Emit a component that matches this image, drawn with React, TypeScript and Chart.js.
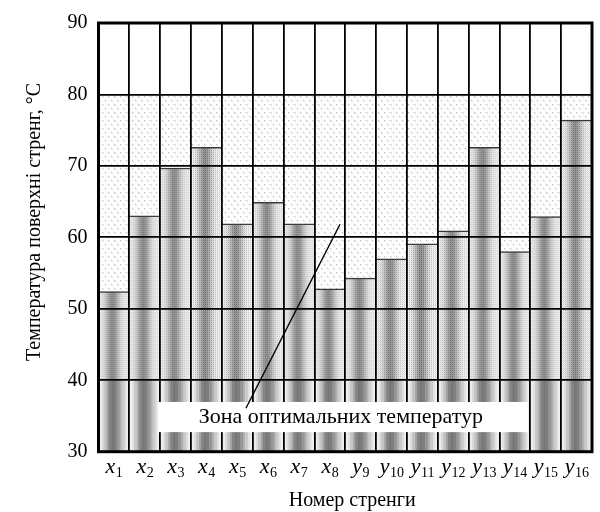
import React, { useEffect, useRef } from "react";
import { Chart, registerables } from "chart.js";

Chart.register(...registerables);

// ---------- data ----------
const CATEGORY_LETTERS = ["x", "x", "x", "x", "x", "x", "x", "x", "y", "y", "y", "y", "y", "y", "y", "y"];
const CATEGORY_INDICES = ["1", "2", "3", "4", "5", "6", "7", "8", "9", "10", "11", "12", "13", "14", "15", "16"];
const CATEGORIES = CATEGORY_LETTERS.map((l, i) => l + CATEGORY_INDICES[i]);
const TEMPERATURES = [52.4, 63.0, 69.7, 72.6, 61.9, 64.9, 61.9, 52.8, 54.3, 57.0, 59.1, 60.9, 72.6, 58.0, 62.9, 76.4];
const Y_TICKS = [30, 40, 50, 60, 70, 80, 90];
const Y_MIN = 30;
const Y_MAX = 90;
const ZONE_LOW = 40; // bars start here
const ZONE_HIGH = 80; // dotted optimal band top

const Y_TITLE = "Температура поверхні стренг, °С";
const X_TITLE = "Номер стренги";
const NOTE_TEXT = "Зона оптимальних температур";
// annotation anchors in data coordinates (category index, °C)
const NOTE_BOX = { x0: 1.43, x1: 13.42, y0: 32.74, y1: 36.96 };
const NOTE_TEXT_POS = { x: 7.36, y: 33.95 };
const LEADER = { x0: 4.28, y0: 36.08, x1: 7.33, y1: 61.84 };

const SERIF = '"Liberation Serif", "Times New Roman", serif';

// ---------- textures ----------
const TILE_W = 31;
const BAYER = [
  [0, 8, 2, 10],
  [12, 4, 14, 6],
  [3, 11, 1, 9],
  [15, 7, 13, 5],
];

function makeTile(w: number, h: number, fn: (x: number, y: number) => number) {
  const c = document.createElement("canvas");
  c.width = w;
  c.height = h;
  const g = c.getContext("2d")!;
  const img = g.createImageData(w, h);
  for (let y = 0; y < h; y++) {
    for (let x = 0; x < w; x++) {
      const v = Math.max(0, Math.min(255, Math.round(fn(x, y))));
      const k = (y * w + x) * 4;
      img.data[k] = v;
      img.data[k + 1] = v;
      img.data[k + 2] = v;
      img.data[k + 3] = 255;
    }
  }
  g.putImageData(img, 0, 0);
  return c;
}

let barTile: HTMLCanvasElement | null = null;
let stripeTile: HTMLCanvasElement | null = null;
let dotTile: HTMLCanvasElement | null = null;

function textures() {
  if (!barTile) {
    barTile = makeTile(TILE_W, 8, (x, y) => {
      const u = (x + 0.5) / TILE_W;
      const base = 236 - 92 * Math.exp(-Math.pow((u - 0.45) / 0.22, 2));
      const b = BAYER[y % 4][x % 4];
      if (b < 4) return base - 38;
      if (b >= 8 && b < 12) return base + 16;
      return base;
    });
    const bands = [238, 222, 196, 164, 132, 118, 126, 150, 176, 202, 224, 240];
    stripeTile = makeTile(TILE_W, 4, (x) => {
      const idx = Math.min(bands.length - 1, Math.floor(((x + 0.5) / TILE_W) * bands.length));
      return bands[idx];
    });
    dotTile = makeTile(6, 8, (x, y) => {
      if ((x === 0 && y === 0) || (x === 3 && y === 4)) return 180;
      if ((x === 1 && y === 1) || (x === 4 && y === 5)) return 215;
      return 253;
    });
  }
  return { barTile: barTile!, stripeTile: stripeTile!, dotTile: dotTile! };
}

function shiftedPattern(ctx: CanvasRenderingContext2D, tile: HTMLCanvasElement, left: number) {
  const p = ctx.createPattern(tile, "repeat")!;
  p.setTransform(new DOMMatrix([1, 0, 0, 1, left, 0]));
  return p;
}

// ---------- plugins ----------
const bandsPlugin = {
  id: "bands",
  beforeDatasetsDraw(chart: any) {
    const { ctx, chartArea, scales } = chart;
    const xs = scales.x;
    const ys = scales.y;
    const t = textures();
    ctx.save();
    // optimal dotted band
    const yTop = ys.getPixelForValue(ZONE_HIGH);
    const yLow = ys.getPixelForValue(ZONE_LOW);
    ctx.fillStyle = ctx.createPattern(t.dotTile, "repeat");
    ctx.fillRect(chartArea.left, yTop, chartArea.right - chartArea.left, yLow - yTop);
    // lower striped band, per column
    const colW = xs.width / CATEGORIES.length;
    const yMin = ys.getPixelForValue(Y_MIN);
    CATEGORIES.forEach((_, i) => {
      const left = xs.getPixelForValue(i) - colW / 2;
      ctx.fillStyle = shiftedPattern(ctx, t.stripeTile, left);
      ctx.fillRect(left, yLow, colW, yMin - yLow);
    });
    ctx.restore();
  },
};

const overlayPlugin = {
  id: "overlay",
  afterDraw(chart: any) {
    const { ctx, chartArea, scales } = chart;
    const xs = scales.x;
    const ys = scales.y;
    ctx.save();

    // note box
    const bx0 = xs.getPixelForValue(NOTE_BOX.x0);
    const bx1 = xs.getPixelForValue(NOTE_BOX.x1);
    const by0 = ys.getPixelForValue(NOTE_BOX.y1);
    const by1 = ys.getPixelForValue(NOTE_BOX.y0);
    ctx.fillStyle = "#ffffff";
    ctx.fillRect(bx0, by0, bx1 - bx0, by1 - by0);

    // leader line
    ctx.strokeStyle = "#000";
    ctx.lineWidth = 1.4;
    ctx.beginPath();
    ctx.moveTo(xs.getPixelForValue(LEADER.x0), ys.getPixelForValue(LEADER.y0));
    ctx.lineTo(xs.getPixelForValue(LEADER.x1), ys.getPixelForValue(LEADER.y1));
    ctx.stroke();

    // note text
    ctx.fillStyle = "#000";
    ctx.font = `22px ${SERIF}`;
    ctx.textAlign = "center";
    ctx.textBaseline = "alphabetic";
    ctx.fillText(NOTE_TEXT, xs.getPixelForValue(NOTE_TEXT_POS.x), ys.getPixelForValue(NOTE_TEXT_POS.y));

    // frame
    ctx.lineWidth = 3;
    ctx.strokeStyle = "#000";
    ctx.strokeRect(chartArea.left, chartArea.top, chartArea.right - chartArea.left, chartArea.bottom - chartArea.top);

    // x category labels with subscripts
    ctx.textAlign = "left";
    CATEGORIES.forEach((_, i) => {
      const cx = xs.getPixelForValue(i);
      ctx.font = `italic 22px ${SERIF}`;
      const w1 = ctx.measureText(CATEGORY_LETTERS[i]).width;
      ctx.font = `14px ${SERIF}`;
      const w2 = ctx.measureText(CATEGORY_INDICES[i]).width;
      const start = cx - (w1 + w2) / 2;
      ctx.font = `italic 22px ${SERIF}`;
      ctx.fillText(CATEGORY_LETTERS[i], start, 473);
      ctx.font = `14px ${SERIF}`;
      ctx.fillText(CATEGORY_INDICES[i], start + w1 + 0.5, 477);
    });

    // axis titles
    ctx.font = `20px ${SERIF}`;
    ctx.textAlign = "center";
    ctx.fillText(X_TITLE, (chartArea.left + chartArea.right) / 2 + 7, 506);

    ctx.translate(35, 222);
    ctx.rotate(-Math.PI / 2);
    ctx.textBaseline = "middle";
    ctx.fillText(Y_TITLE, 0, 0);

    ctx.restore();
  },
};

export default function App() {
  const ref = useRef<HTMLCanvasElement | null>(null);

  useEffect(() => {
    if (!ref.current) return;
    const chart = new Chart(ref.current, {
      type: "bar",
      data: {
        labels: CATEGORIES,
        datasets: [
          {
            label: "T",
            data: TEMPERATURES.map((v) => [ZONE_LOW, v]) as any,
            barPercentage: 1,
            categoryPercentage: 1,
            borderSkipped: false,
            borderWidth: { top: 1.5, left: 0, right: 0, bottom: 0 },
            borderColor: "#3a3a3a",
            backgroundColor: (c: any) => {
              const chartRef = c.chart;
              const xs = chartRef.scales && chartRef.scales.x;
              if (!xs || c.dataIndex === undefined) return "#bbbbbb";
              const colW = xs.width / CATEGORIES.length;
              const left = xs.getPixelForValue(c.dataIndex) - colW / 2;
              return shiftedPattern(chartRef.ctx, textures().barTile, left);
            },
          },
        ],
      },
      options: {
        responsive: false,
        animation: false,
        devicePixelRatio: 1,
        layout: { padding: { left: 0, top: 20.7, right: 8, bottom: 0 } },
        plugins: {
          legend: { display: false },
          tooltip: { enabled: false },
        },
        scales: {
          x: {
            type: "category",
            offset: true,
            grid: { offset: true, color: "#000", lineWidth: 1.8, z: 1, drawTicks: false },
            border: { display: false },
            ticks: { display: false },
            afterFit: (s: any) => {
              s.height = 60.3;
            },
          },
          y: {
            min: Y_MIN,
            max: Y_MAX,
            afterBuildTicks: (s: any) => {
              s.ticks = Y_TICKS.map((v) => ({ value: v }));
            },
            grid: { color: "#000", lineWidth: 1.8, z: 1, drawTicks: false },
            border: { display: false },
            ticks: {
              color: "#000",
              padding: 11,
              font: { family: SERIF, size: 20 },
            },
            afterFit: (s: any) => {
              s.width = 98.5;
            },
          },
        },
      },
      plugins: [bandsPlugin, overlayPlugin],
    });
    return () => chart.destroy();
  }, []);

  return (
    <canvas
      ref={ref}
      width={600}
      height={512}
      style={{ position: "fixed", left: 0, top: 0, width: 600, height: 512, background: "#fff" }}
    />
  );
}
